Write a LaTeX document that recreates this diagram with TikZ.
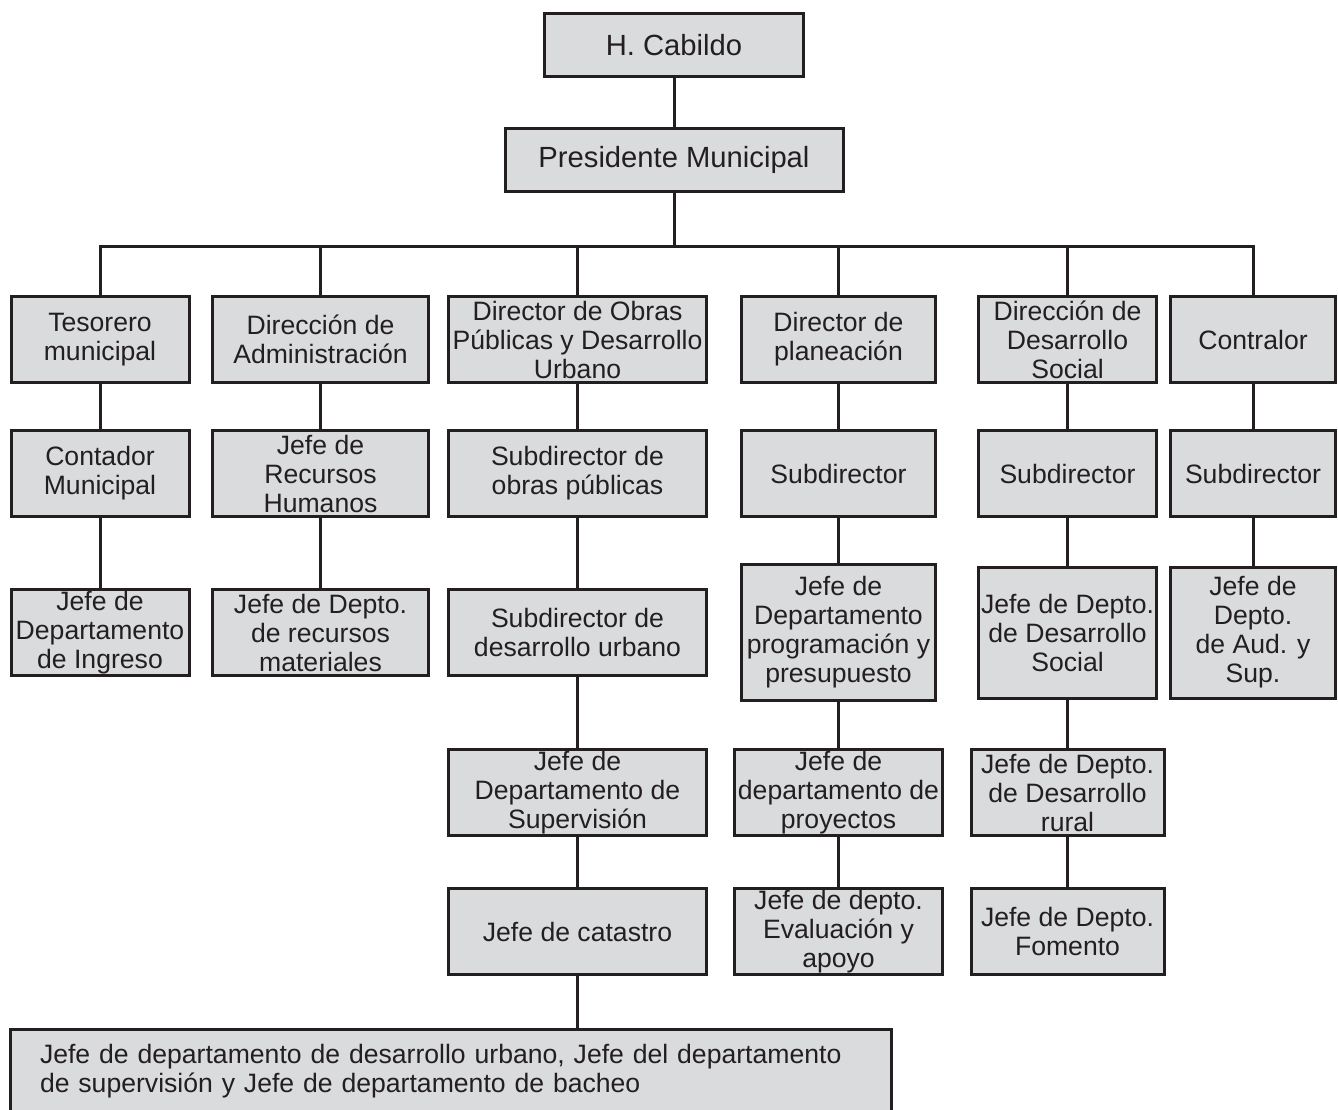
\documentclass[tikz,border=0pt]{standalone}
\usepackage{fontspec}
\setmainfont{Liberation Sans}
\definecolor{inkgray}{RGB}{35,31,32}
\definecolor{boxgray}{RGB}{218,219,221}

\begin{document}
\begin{tikzpicture}[x=1pt, y=-1pt,
  puesto/.style={draw=inkgray, fill=boxgray, line width=3pt, inner sep=0pt, align=center,
    text=inkgray, font=\fontsize{26.6pt}{29pt}\selectfont, minimum height=86pt},
  mando/.style={puesto, font=\fontsize{29.2pt}{32pt}\selectfont, minimum height=63pt},
  liga/.style={draw=inkgray, line width=3pt}]

\useasboundingbox (0,0) rectangle (1338,1110);

\node[mando, minimum width=259pt] (cabildo) at (674, 45.5) {H. Cabildo};
\node[mando, minimum width=338pt] (presidente) at (674, 160) {Presidente Municipal};

\node[puesto, minimum width=178pt] (tesorero) at (100, 339.5) {Tesorero\\municipal};
\node[puesto, minimum width=216pt] (administracion) at (320.5, 339.5) {Dirección de\\Administración};
\node[puesto, minimum width=258pt] (obras) at (577.5, 339.5) {Director de Obras\\Públicas y Desarrollo\\Urbano};
\node[puesto, minimum width=194pt] (planeacion) at (838.5, 339.5) {Director de\\planeación};
\node[puesto, minimum width=178pt] (dsocial) at (1067.5, 339.5) {Dirección de\\Desarrollo\\Social};
\node[puesto, minimum width=165pt] (contralor) at (1253, 339.5) {Contralor};

\node[puesto, minimum width=178pt] (contador) at (100, 473.5) {Contador\\Municipal};
\node[puesto, minimum width=216pt] (rrhh) at (320.5, 473.5) {Jefe de\\Recursos\\Humanos};
\node[puesto, minimum width=258pt] (subobras) at (577.5, 473.5) {Subdirector de\\obras públicas};
\node[puesto, minimum width=194pt] (subplaneacion) at (838.5, 473.5) {Subdirector};
\node[puesto, minimum width=178pt] (subdsocial) at (1067.5, 473.5) {Subdirector};
\node[puesto, minimum width=165pt] (subcontralor) at (1253, 473.5) {Subdirector};

\node[puesto, minimum width=178pt] (ingreso) at (100, 632.5) {Jefe de\\Departamento\\de Ingreso};
\node[puesto, minimum width=216pt] (materiales) at (320.5, 632.5) {Jefe de Depto.\\de recursos\\materiales};
\node[puesto, minimum width=258pt] (subdesurbano) at (577.5, 632.5) {Subdirector de\\desarrollo urbano};
\node[puesto, minimum width=194pt, minimum height=136pt] (programacion) at (838.5, 632.5) {Jefe de\\Departamento\\programación y\\presupuesto};
\node[puesto, minimum width=178pt, minimum height=131pt] (jdsocial) at (1067.5, 632.5) {Jefe de Depto.\\de Desarrollo\\Social};
\node[puesto, minimum width=165pt, minimum height=131pt] (auditoria) at (1253, 632.5) {Jefe de\\Depto.\\de Aud. y\\Sup.};

\node[puesto, minimum width=258pt] (supervision) at (577.5, 792.5) {Jefe de\\Departamento de\\Supervisión};
\node[puesto, minimum width=208pt] (proyectos) at (838.5, 792.5) {Jefe de\\departamento de\\proyectos};
\node[puesto, minimum width=193pt] (rural) at (1067.5, 792.5) {Jefe de Depto.\\de Desarrollo\\rural};

\node[puesto, minimum width=258pt] (catastro) at (577.5, 931.5) {Jefe de catastro};
\node[puesto, minimum width=208pt] (evaluacion) at (838.5, 931.5) {Jefe de depto.\\Evaluación y\\apoyo};
\node[puesto, minimum width=193pt] (fomento) at (1067.5, 931.5) {Jefe de Depto.\\Fomento};

\node[puesto, minimum width=881pt, minimum height=83pt, align=left, text width=822pt] (jefes) at (451, 1071)
  {Jefe de departamento de desarrollo urbano, Jefe del departamento\\de supervisión y Jefe de departamento de bacheo};

\coordinate (bus) at (674, 246);
\draw[liga] (cabildo) -- (presidente);
\draw[liga] (presidente) -- (bus);
\foreach \n in {tesorero,administracion,obras,planeacion,dsocial,contralor}
  \draw[liga] (bus) -| (\n.north);

\draw[liga] (tesorero) -- (contador) -- (ingreso);
\draw[liga] (administracion) -- (rrhh) -- (materiales);
\draw[liga] (obras) -- (subobras) -- (subdesurbano) -- (supervision) -- (catastro);
\draw[liga] (catastro) -- (catastro.south |- jefes.north);
\draw[liga] (planeacion) -- (subplaneacion) -- (programacion) -- (proyectos) -- (evaluacion);
\draw[liga] (dsocial) -- (subdsocial) -- (jdsocial) -- (rural) -- (fomento);
\draw[liga] (contralor) -- (subcontralor) -- (auditoria);

\end{tikzpicture}
\end{document}
